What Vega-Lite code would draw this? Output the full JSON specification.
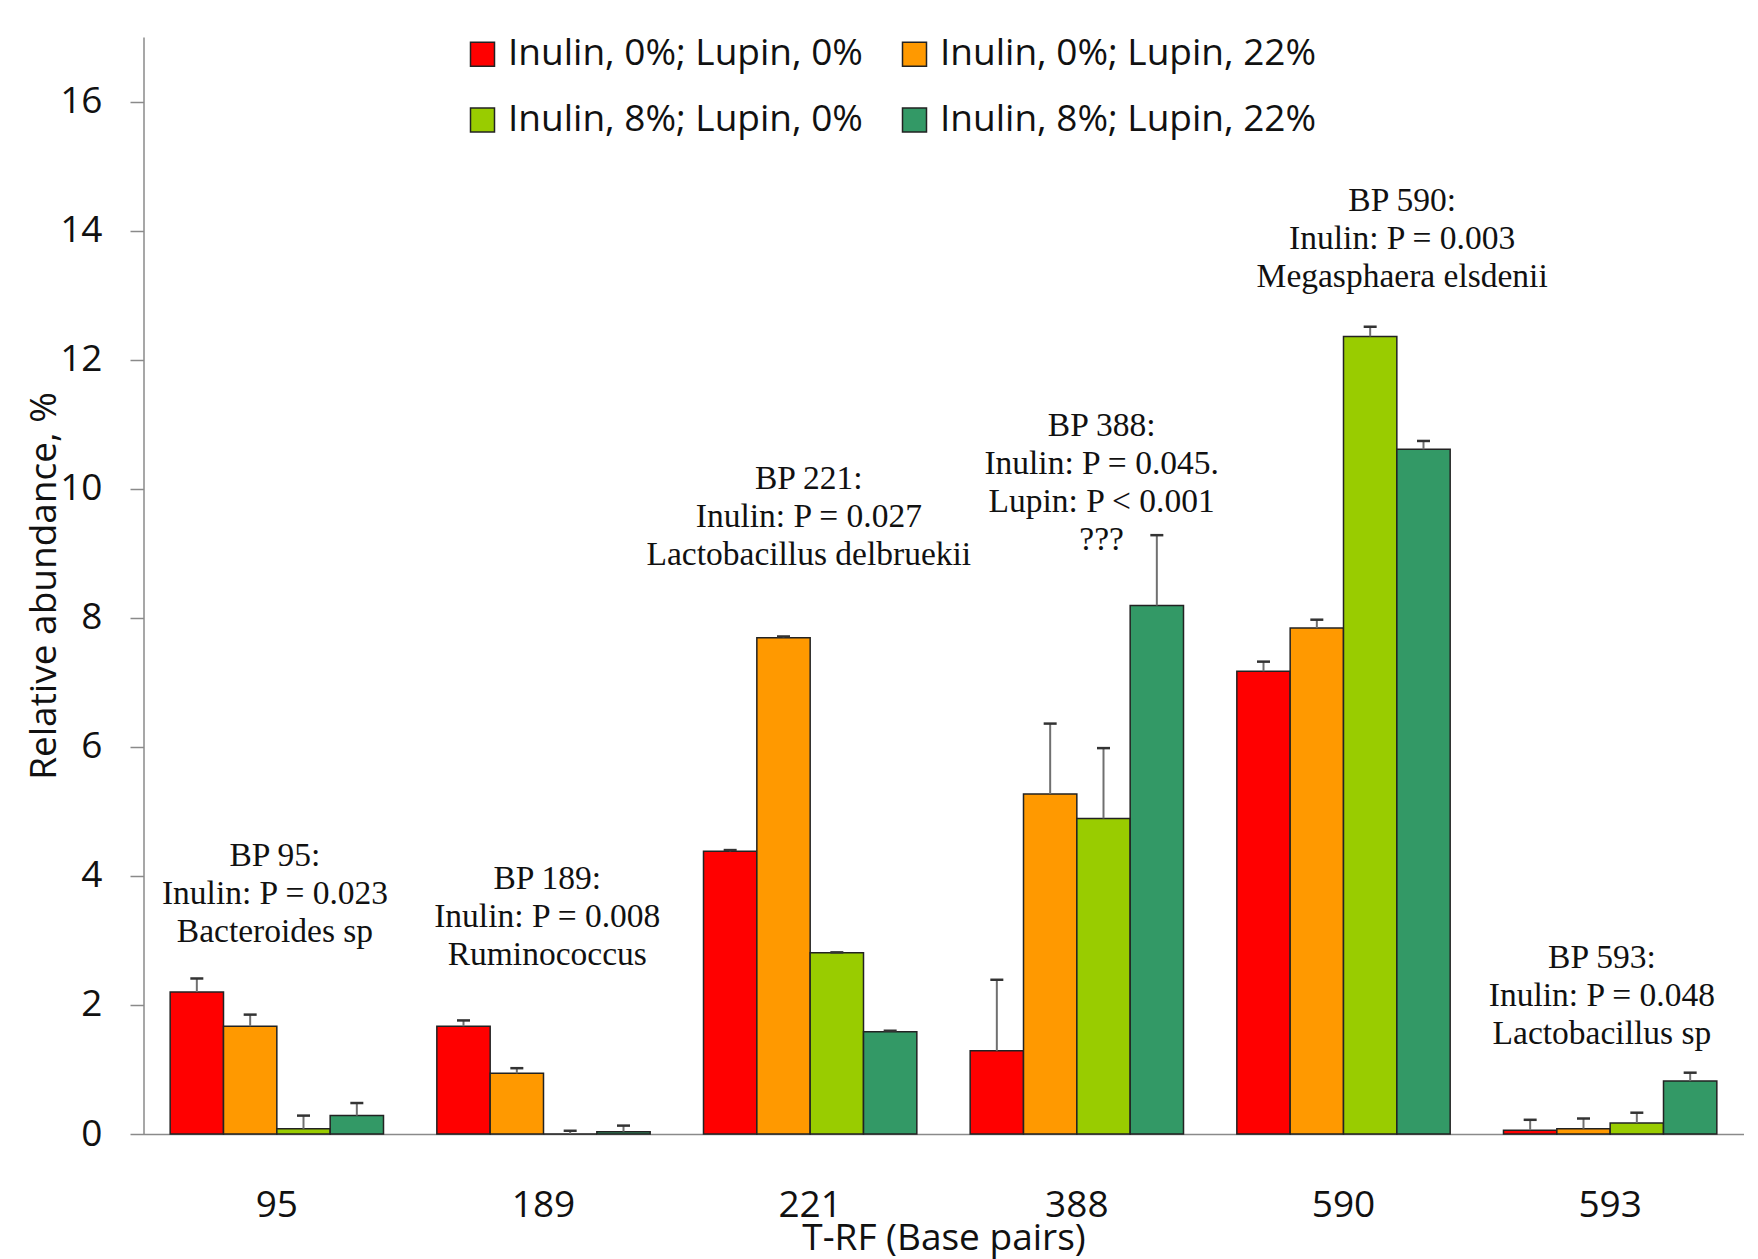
{
  "$schema": "https://vega.github.io/schema/vega-lite/v6.json",
  "width": 1600,
  "height": 1097,
  "autosize": {"type": "none"},
  "padding": {"left": 143.5, "top": 37, "right": 14.5, "bottom": 125},
  "background": "white",
  "config": {"view": {"stroke": null}, "font": "Open Sans"},
  "datasets": {
    "bars": [
      {"bp": "95", "series": "Inulin, 0%; Lupin, 0%", "value": 2.20, "upper": 2.41},
      {"bp": "95", "series": "Inulin, 0%; Lupin, 22%", "value": 1.67, "upper": 1.85},
      {"bp": "95", "series": "Inulin, 8%; Lupin, 0%", "value": 0.08, "upper": 0.285},
      {"bp": "95", "series": "Inulin, 8%; Lupin, 22%", "value": 0.285, "upper": 0.48},
      {"bp": "189", "series": "Inulin, 0%; Lupin, 0%", "value": 1.67, "upper": 1.76},
      {"bp": "189", "series": "Inulin, 0%; Lupin, 22%", "value": 0.94, "upper": 1.02},
      {"bp": "189", "series": "Inulin, 8%; Lupin, 0%", "value": 0.0, "upper": 0.05},
      {"bp": "189", "series": "Inulin, 8%; Lupin, 22%", "value": 0.036, "upper": 0.13},
      {"bp": "221", "series": "Inulin, 0%; Lupin, 0%", "value": 4.38, "upper": 4.40},
      {"bp": "221", "series": "Inulin, 0%; Lupin, 22%", "value": 7.69, "upper": 7.71},
      {"bp": "221", "series": "Inulin, 8%; Lupin, 0%", "value": 2.81, "upper": 2.815},
      {"bp": "221", "series": "Inulin, 8%; Lupin, 22%", "value": 1.585, "upper": 1.60},
      {"bp": "388", "series": "Inulin, 0%; Lupin, 0%", "value": 1.29, "upper": 2.39},
      {"bp": "388", "series": "Inulin, 0%; Lupin, 22%", "value": 5.27, "upper": 6.36},
      {"bp": "388", "series": "Inulin, 8%; Lupin, 0%", "value": 4.89, "upper": 5.98},
      {"bp": "388", "series": "Inulin, 8%; Lupin, 22%", "value": 8.19, "upper": 9.28},
      {"bp": "590", "series": "Inulin, 0%; Lupin, 0%", "value": 7.17, "upper": 7.32},
      {"bp": "590", "series": "Inulin, 0%; Lupin, 22%", "value": 7.84, "upper": 7.97},
      {"bp": "590", "series": "Inulin, 8%; Lupin, 0%", "value": 12.36, "upper": 12.51},
      {"bp": "590", "series": "Inulin, 8%; Lupin, 22%", "value": 10.61, "upper": 10.74},
      {"bp": "593", "series": "Inulin, 0%; Lupin, 0%", "value": 0.06, "upper": 0.22},
      {"bp": "593", "series": "Inulin, 0%; Lupin, 22%", "value": 0.082, "upper": 0.24},
      {"bp": "593", "series": "Inulin, 8%; Lupin, 0%", "value": 0.17, "upper": 0.33},
      {"bp": "593", "series": "Inulin, 8%; Lupin, 22%", "value": 0.82, "upper": 0.95}
    ],
    "notes": [
      {"pos": 0.493, "ybase": 4.15, "lines": ["BP 95:", "Inulin: P = 0.023", "Bacteroides sp"]},
      {"pos": 1.514, "ybase": 3.79, "lines": ["BP 189:", "Inulin: P = 0.008", "Ruminococcus"]},
      {"pos": 2.495, "ybase": 9.99, "lines": ["BP 221:", "Inulin: P = 0.027", "Lactobacillus delbruekii"]},
      {"pos": 3.593, "ybase": 10.82, "lines": ["BP 388:", "Inulin: P = 0.045.", "Lupin: P < 0.001", "???"]},
      {"pos": 4.72, "ybase": 14.31, "lines": ["BP 590:", "Inulin: P = 0.003", "Megasphaera elsdenii"]},
      {"pos": 5.469, "ybase": 2.575, "lines": ["BP 593:", "Inulin: P = 0.048", "Lactobacillus sp"]}
    ]
  },
  "layer": [
    {
      "data": {"name": "bars"},
      "encoding": {
        "x": {
          "field": "bp", "type": "nominal",
          "sort": ["95", "189", "221", "388", "590", "593"],
          "scale": {"paddingInner": 0.2, "paddingOuter": 0.1},
          "axis": {
            "title": "T-RF (Base pairs)", "labelAngle": 0, "ticks": false, "tickSize": 0,
            "labelPadding": 82, "labelBaseline": "alphabetic",
            "labelFont": "Open Sans", "labelFontSize": 37, "labelColor": "#111111",
            "domainColor": "#8a8a8a", "domainWidth": 1.5,
            "titleFont": "Open Sans", "titleFontSize": 37, "titleFontWeight": "normal", "titleColor": "#111111",
            "titleY": 115, "titleBaseline": "alphabetic", "titleX": 800, "titleAlign": "center"
          }
        },
        "xOffset": {
          "field": "series", "type": "nominal",
          "sort": ["Inulin, 0%; Lupin, 0%", "Inulin, 0%; Lupin, 22%", "Inulin, 8%; Lupin, 0%", "Inulin, 8%; Lupin, 22%"],
          "scale": {"paddingInner": 0, "paddingOuter": 0}
        }
      },
      "layer": [
        {
          "mark": {"type": "bar", "stroke": "#222222", "strokeWidth": 1.5},
          "encoding": {
            "y": {
              "field": "value", "type": "quantitative",
              "scale": {"domain": [0, 17], "nice": false},
              "axis": {
                "values": [0, 2, 4, 6, 8, 10, 12, 14, 16], "format": "d", "grid": false,
                "domainColor": "#8a8a8a", "domainWidth": 1.5,
                "tickColor": "#8a8a8a", "tickSize": 13.5, "tickWidth": 1.5,
                "labelFont": "Open Sans", "labelFontSize": 37, "labelColor": "#111111", "labelPadding": 28,
                "title": "Relative abundance, %", "titleFont": "Open Sans", "titleFontSize": 37,
                "titleFontWeight": "normal", "titleColor": "#111111",
                "titleX": -88, "titleY": 548.5, "titleAngle": -90, "titleAlign": "center", "titleBaseline": "alphabetic"
              }
            },
            "color": {
              "field": "series", "type": "nominal",
              "scale": {
                "domain": ["Inulin, 0%; Lupin, 0%", "Inulin, 0%; Lupin, 22%", "Inulin, 8%; Lupin, 0%", "Inulin, 8%; Lupin, 22%"],
                "range": ["#ff0000", "#ff9900", "#99cc00", "#339966"]
              },
              "legend": {
                "orient": "none", "legendX": 320.5, "legendY": -1.5, "columns": 2, "direction": "horizontal", "title": null,
                "symbolType": "square", "symbolSize": 576, "symbolStrokeColor": "#222222", "symbolStrokeWidth": 1.5,
                "symbolOpacity": 1,
                "labelFont": "Open Sans", "labelFontSize": 37, "labelColor": "#111111", "labelOffset": 7,
                "labelLimit": 600, "rowPadding": 28, "columnPadding": 33, "padding": 0
              }
            }
          }
        },
        {
          "mark": {"type": "rule", "color": "#707070", "strokeWidth": 2},
          "encoding": {
            "y": {"field": "value", "type": "quantitative"},
            "y2": {"field": "upper"}
          }
        },
        {
          "mark": {"type": "tick", "color": "#333333", "thickness": 2.5, "size": 13, "opacity": 1},
          "encoding": {
            "y": {"field": "upper", "type": "quantitative"}
          }
        }
      ],
      "resolve": {"scale": {"x": "shared"}}
    },
    {
      "data": {"name": "notes"},
      "mark": {"type": "text", "font": "Liberation Serif", "fontSize": 33.5, "lineHeight": 38, "baseline": "alphabetic", "align": "center", "color": "#111111"},
      "encoding": {
        "x": {"field": "pos", "type": "quantitative", "scale": {"domain": [0, 6], "nice": false, "zero": false}, "axis": null},
        "y": {"field": "ybase", "type": "quantitative"},
        "text": {"field": "lines"}
      }
    }
  ],
  "resolve": {"scale": {"x": "independent"}}
}
